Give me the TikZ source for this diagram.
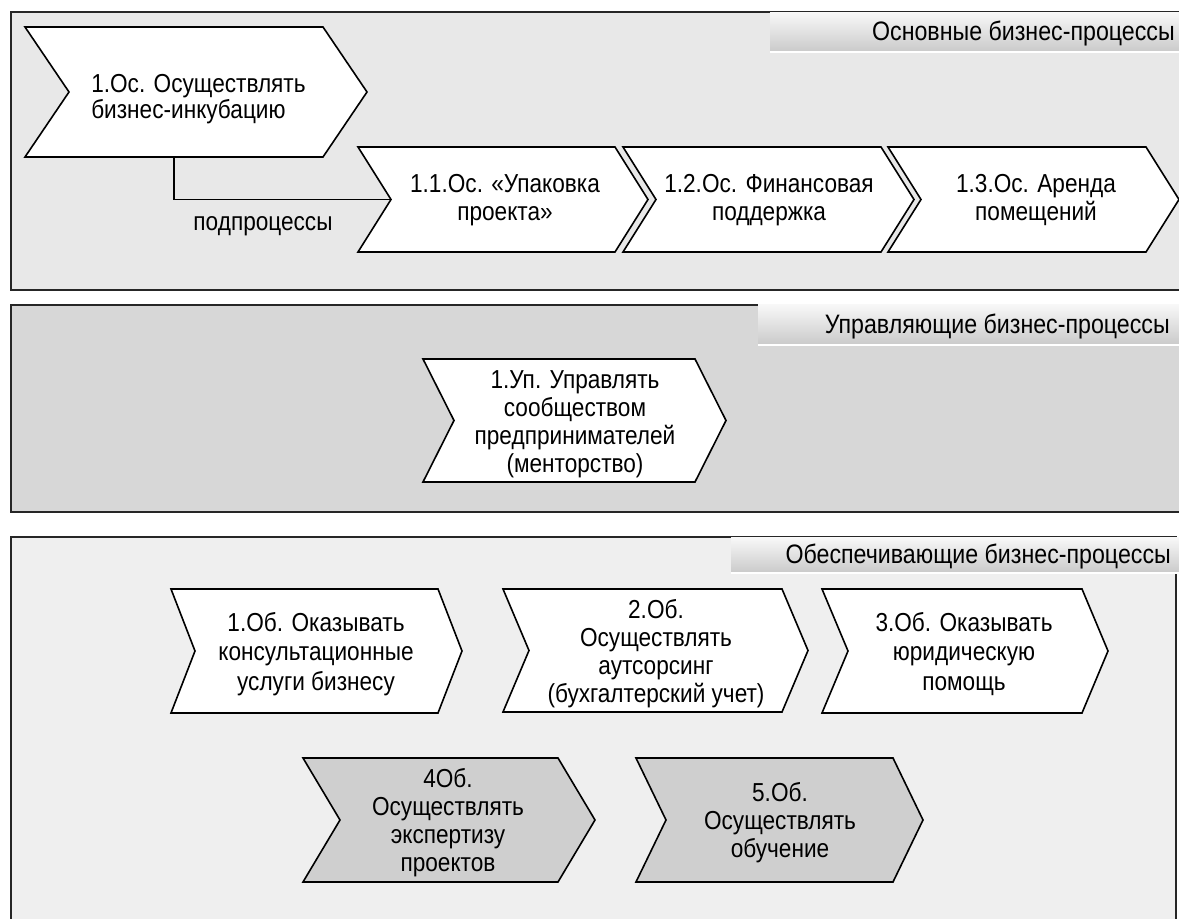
\documentclass[tikz,border=0pt]{standalone}
\usepackage{fontspec}
\setmainfont{Liberation Sans}[FakeStretch=0.87]
\definecolor{pone}{HTML}{E8E8E8}
\definecolor{ptwo}{HTML}{D7D7D7}
\definecolor{pthree}{HTML}{EFEFEF}
\definecolor{chgrey}{HTML}{CFCFCF}
\newcommand{\chevpath}[6]{%
  \draw[chev,fill=#6] (#1,#3) -- (#2,#3) -- ({#2+#5},{(#3+#4)/2}) -- (#2,#4) -- (#1,#4) -- ({#1+#5},{(#3+#4)/2}) -- cycle;}
\begin{document}
\begin{tikzpicture}[x=0.75pt,y=-0.75pt,
  panel/.style={draw=black!85, line width=1.5pt},
  chev/.style={draw=black, line width=1.2pt, line join=miter},
  ctext/.style={align=center, font=\fontsize{19.5}{21}\selectfont, inner sep=0pt},
  labtext/.style={font=\fontsize{20}{22}\selectfont, anchor=east, inner sep=0pt},
  labbox/.style={top color=gray!6, bottom color=gray!42},
  conn/.style={draw=black, line width=1.1pt}]
\useasboundingbox (0,0) rectangle (1179,919);
\clip (0,0) rectangle (1179,919);
% ---------- panel 1
\draw[panel, fill=pone] (11,12) rectangle (1195,290);
\shade[labbox] (770,13) rectangle (1179,52);
\draw[white, line width=1pt] (770,52) -- (1179,52);
\node[labtext] (lab1) at (1175,33) {Основные бизнес-процессы};
\chevpath{25}{323}{27}{157}{44}{white}
\node[ctext, align=left, anchor=west, font=\fontsize{19.5}{19}\selectfont] (c1) at (91,99)
  {1.Ос. Осуществлять\\бизнес-инкубацию};
\chevpath{358}{615}{147}{252}{33}{white}
\chevpath{623}{881}{147}{252}{33}{white}
\chevpath{888}{1146}{147}{252}{33}{white}
\node[ctext] (c11) at (505,200) {1.1.Ос. «Упаковка\\проекта»};
\node[ctext] (c12) at (769,200) {1.2.Ос. Финансовая\\поддержка};
\node[ctext] (c13) at (1036,200) {1.3.Ос. Аренда\\помещений};
\coordinate (c1bot) at (174,157);
\coordinate (c11notch) at (391,199.5);
\draw[conn] (c1bot) |- (c11notch);
\node[ctext] (sub) at (263,226) {подпроцессы};
% ---------- panel 2
\draw[panel, fill=ptwo] (11,305) rectangle (1195,512);
\shade[labbox] (758,305) rectangle (1179,345);
\draw[white, line width=1pt] (758,345) -- (1179,345);
\node[labtext] (lab2) at (1170,326) {Управляющие бизнес-процессы};
\chevpath{423}{695}{359}{482}{31}{white}
\node[ctext] (u1) at (575,424) {1.Уп. Управлять\\сообществом\\предпринимателей\\(менторство)};
% ---------- panel 3
\draw[panel, fill=pthree] (11,537) rectangle (1176,945);
\shade[labbox] (731,538) rectangle (1179,573);
\draw[white, line width=1pt] (731,573) -- (1179,573);
\node[labtext] (lab3) at (1171,556) {Обеспечивающие бизнес-процессы};
\chevpath{171}{438}{589}{713}{24}{white}
\chevpath{503}{782}{589}{712}{26}{white}
\chevpath{822}{1082}{589}{713}{26}{white}
\node[ctext, font=\fontsize{19.5}{22}\selectfont] (o1) at (316,654) {1.Об. Оказывать\\консультационные\\услуги бизнесу};
\node[ctext] (o2) at (656,654) {2.Об.\\Осуществлять\\аутсорсинг\\(бухгалтерский учет)};
\node[ctext, font=\fontsize{19.5}{22}\selectfont] (o3) at (964,654) {3.Об. Оказывать\\юридическую\\помощь};
\chevpath{303}{558}{758}{882}{37}{chgrey}
\chevpath{636}{893}{758}{882}{30}{chgrey}
\node[ctext] (o4) at (448,823) {4Об.\\Осуществлять\\экспертизу\\проектов};
\node[ctext] (o5) at (780,823) {5.Об.\\Осуществлять\\обучение};
\end{tikzpicture}
\end{document}
